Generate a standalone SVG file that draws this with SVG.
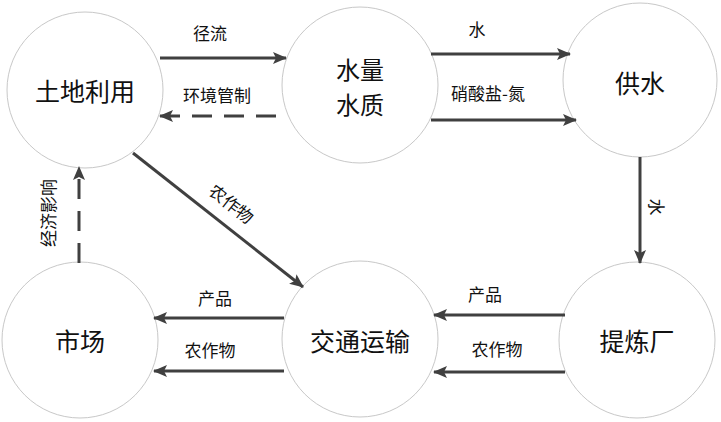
<svg xmlns="http://www.w3.org/2000/svg" width="721" height="422" viewBox="0 0 721 422">
<defs>
<style>
.node circle{fill:#fff;stroke:#c8c8c8;stroke-width:1}
.node text{font-family:"Noto Sans CJK SC","Liberation Sans",sans-serif;font-size:25px;fill:#111;text-anchor:middle;dominant-baseline:central}
.lbl{font-family:"Noto Sans CJK SC","Liberation Sans",sans-serif;font-size:17px;fill:#111;text-anchor:middle;dominant-baseline:central}
.edge{stroke:#404040;stroke-width:3;fill:none;marker-end:url(#ah)}
.dash{stroke-dasharray:20 12}
</style>
<marker id="ah" markerUnits="userSpaceOnUse" markerWidth="14" markerHeight="12" refX="13" refY="6" orient="auto">
<path d="M0,0 L14,6 L0,12 L3,6 Z" fill="#404040"/>
</marker>
</defs>
<rect width="721" height="422" fill="#fff"/>
<g id="n-landuse" class="node"><circle cx="85" cy="90" r="78"/><text x="85" y="90">土地利用</text></g>
<g id="n-water" class="node"><circle cx="360" cy="85" r="78"/><text x="360" y="68" style="font-size:24px">水量</text><text x="360" y="103" style="font-size:24px">水质</text></g>
<g id="n-supply" class="node"><circle cx="640" cy="80" r="77"/><text x="640" y="82">供水</text></g>
<g id="n-market" class="node"><circle cx="80" cy="340" r="78"/><text x="80" y="340">市场</text></g>
<g id="n-transport" class="node"><circle cx="360" cy="339" r="78"/><text x="360" y="340">交通运输</text></g>
<g id="n-refinery" class="node"><circle cx="637" cy="340" r="78"/><text x="637" y="340">提炼厂</text></g>
<g id="connectors">
<line class="edge" x1="160" y1="58" x2="286" y2="58"/>
<line class="edge dash" x1="276" y1="116" x2="160" y2="116"/>
<line class="edge" x1="431" y1="54" x2="570" y2="54"/>
<line class="edge" x1="431" y1="120" x2="576" y2="120"/>
<line class="edge" x1="640" y1="157" x2="640" y2="263"/>
<line class="edge" x1="565" y1="315" x2="434" y2="315"/>
<line class="edge" x1="565" y1="372" x2="434" y2="372"/>
<line class="edge" x1="284" y1="318" x2="154" y2="318"/>
<line class="edge" x1="284" y1="371" x2="154" y2="371"/>
<line class="edge dash" x1="79" y1="263" x2="79" y2="167"/>
<line class="edge" x1="133" y1="153" x2="303" y2="287"/>
</g>
<g id="labels">
<text class="lbl" x="210" y="32">径流</text>
<text class="lbl" x="217" y="94">环境管制</text>
<text class="lbl" x="477" y="28">水</text>
<text class="lbl" x="488" y="92">硝酸盐-氮</text>
<text class="lbl" transform="translate(657,207) rotate(90)">水</text>
<text class="lbl" x="485" y="293">产品</text>
<text class="lbl" x="497" y="348">农作物</text>
<text class="lbl" x="215" y="297">产品</text>
<text class="lbl" x="210" y="349">农作物</text>
<text class="lbl" transform="translate(47,213) rotate(-90)">经济影响</text>
<text class="lbl" transform="translate(232,203) rotate(38)">农作物</text>
</g>
</svg>
